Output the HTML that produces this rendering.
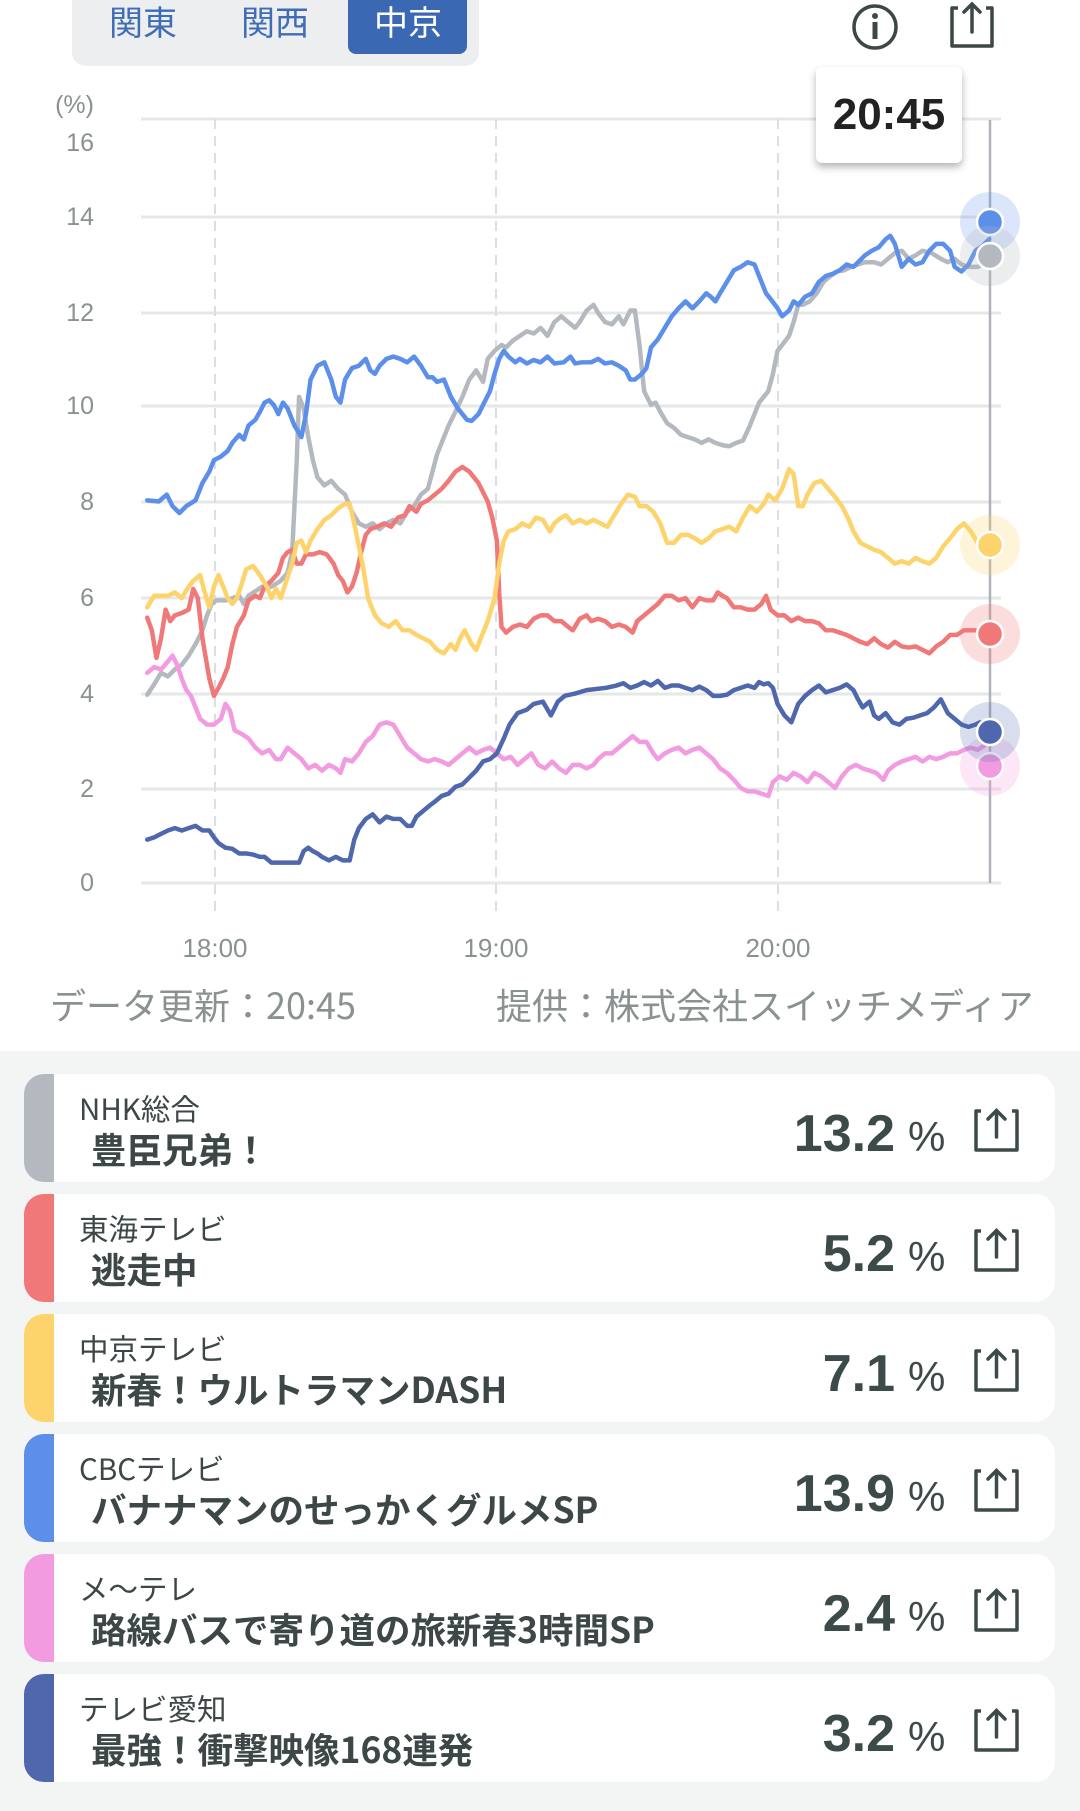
<!DOCTYPE html>
<html><head><meta charset="utf-8"><style>
*{margin:0;padding:0;box-sizing:border-box}
body{width:1080px;height:1804px;background:#fff;position:relative;overflow:hidden;font-family:"Liberation Sans","Noto Sans CJK JP",sans-serif;color:#3d4747}
.abs{position:absolute}
.tabbar{left:72px;top:-20px;width:407px;height:86px;background:#eceeef;border-radius:14px}
.tab{top:0;font-size:34px;color:#3f6db5;line-height:42px;font-family:"Noto Sans CJK JP",sans-serif}
.active{left:348px;top:-10px;width:119px;height:64px;background:#3a68b3;border-radius:8px}
.ylab{font-size:25px;color:#8a9191;width:60px;text-align:right;left:34px;line-height:30px}
.xlab{font-size:26px;color:#8a9191;width:120px;text-align:center;line-height:30px;top:933px}
.foot{font-size:36px;color:#8a9191;line-height:40px;top:984px;font-family:"Noto Sans CJK JP",sans-serif}
.list{left:0;top:1051px;width:1080px;height:760px;background:#f3f5f5}
.card{left:24px;width:1031px;height:108px;background:#fff;border-radius:20px;overflow:hidden}
.bar{left:0;top:0;width:30px;height:108px}
.ch{left:55px;top:16px;font-size:29.5px;line-height:36px;font-family:"Noto Sans CJK JP",sans-serif;color:#3d4747}
.ti{left:67px;top:53px;font-size:35.5px;line-height:44px;font-weight:bold;font-family:"Noto Sans CJK JP",sans-serif;color:#3d4747}
.val{right:160px;top:30px;font-size:52px;font-weight:bold;line-height:60px;color:#3d4a4a}
.pct{left:884px;top:37px;font-size:42px;line-height:52px;color:#3d4a4a}
.sh{left:949px;top:33px}
</style></head><body>
<div class="abs tabbar"></div>
<div class="abs active"></div>
<div class="abs tab" style="left:109px">関東</div>
<div class="abs tab" style="left:241px">関西</div>
<div class="abs tab" style="left:374px;color:#fff">中京</div>
<svg class="abs" style="left:0;top:0" width="1080" height="1050">
 <circle cx="875" cy="27" r="21" fill="none" stroke="#3d4747" stroke-width="3.5"/>
 <circle cx="875" cy="16" r="3" fill="#3d4747"/>
 <rect x="872.5" y="22" width="5" height="17" fill="#3d4747"/>
 <path d="M958 8 H952 V46 H992 V8 H986" fill="none" stroke="#3d4747" stroke-width="3.5" stroke-linejoin="round"/>
 <path d="M972 32 V4 M964 12 L972 4 L980 12" fill="none" stroke="#3d4747" stroke-width="3.5" stroke-linecap="round"/>
 <g stroke="#e6e8e8" stroke-width="3">
  <line x1="141" x2="1001" y1="119" y2="119"/><line x1="141" x2="1001" y1="217" y2="217"/>
  <line x1="141" x2="1001" y1="313" y2="313"/><line x1="141" x2="1001" y1="406" y2="406"/>
  <line x1="141" x2="1001" y1="502" y2="502"/><line x1="141" x2="1001" y1="598" y2="598"/>
  <line x1="141" x2="1001" y1="694" y2="694"/><line x1="141" x2="1001" y1="789" y2="789"/>
  <line x1="141" x2="1001" y1="883" y2="883"/>
 </g>
 <g stroke="#dcdfe0" stroke-width="2" stroke-dasharray="10,7">
  <line x1="215" x2="215" y1="119" y2="912"/><line x1="496" x2="496" y1="119" y2="912"/><line x1="778" x2="778" y1="119" y2="912"/>
 </g>
 <line x1="990" x2="990" y1="120" y2="883" stroke="#b0b4b8" stroke-width="2.5"/>
 <g transform="scale(1.1502)" fill="none" stroke-width="3.9" stroke-linejoin="round" stroke-linecap="round">
 <polyline stroke="#b4b9c0" points="128,604 134,595 140,585 146,588 152,582 158,578 164,570 170,560 176,548 180,535 184,525 188,522 196,522 202,520 208,518 212,525 216,518 222,514 228,510 236,510 244,505 250,498 254,480 258,400 260,345 264,355 268,380 272,400 276,415 282,422 288,418 294,425 300,430 306,445 312,455 318,458 324,455 330,460 336,455 342,452 348,455 354,445 360,440 366,430 372,425 376,410 380,395 384,385 390,370 396,358 402,345 408,330 414,322 420,332 424,312 430,305 436,300 440,302 446,296 452,292 458,288 464,290 470,285 476,292 482,280 488,275 494,280 500,285 504,280 510,270 516,265 520,272 526,280 532,282 538,275 542,282 548,270 552,270 556,300 560,340 566,352 570,350 574,358 580,368 586,372 592,378 598,380 604,382 610,385 616,382 622,385 628,387 634,388 640,385 646,383 652,370 656,360 660,350 664,345 668,340 672,325 676,305 680,300 686,292 690,280 694,265 698,265 704,262 710,255 716,245 722,240 728,236 734,235 740,232 746,230 752,228 760,228 766,230 772,225 778,220 784,218 790,225 796,222 802,218 810,220 818,225 824,228 830,225 836,230 842,232 850,232 858,228 862,222"/>
 <polyline stroke="#f07878" points="128,537 132,548 136,572 140,555 144,530 148,540 152,535 158,533 164,530 168,512 172,520 176,555 182,590 186,605 190,598 194,590 198,580 202,560 206,545 212,535 216,522 222,518 226,520 230,510 236,505 242,498 246,485 250,480 254,478 258,490 262,490 266,482 272,482 278,480 284,482 290,490 294,500 298,505 302,515 306,510 310,498 314,480 318,465 322,460 328,458 334,455 340,458 346,450 352,448 356,440 362,445 366,438 372,435 378,430 384,425 390,418 396,410 402,406 408,410 412,415 416,420 420,428 424,436 428,450 432,470 434,515 436,545 440,550 446,545 452,543 458,545 464,538 470,535 476,535 482,540 488,540 494,545 498,548 504,538 510,535 514,540 520,538 526,540 532,545 538,543 544,545 550,550 554,540 560,535 566,530 572,525 578,518 584,518 590,522 596,520 602,528 608,520 614,522 620,522 624,515 628,518 632,520 638,528 644,528 650,530 656,530 662,525 666,518 670,530 676,535 682,535 688,540 694,537 700,540 706,540 712,542 718,548 724,548 730,550 736,552 742,555 748,558 754,560 760,555 766,560 772,563 778,558 784,562 790,563 796,562 802,565 808,568 814,562 820,558 826,552 832,552 838,548 844,548 850,548 856,545 862,550"/>
 <polyline stroke="#fdd46c" points="128,528 134,518 140,518 146,518 152,515 158,520 164,510 168,505 174,500 178,515 182,528 186,510 190,500 194,510 198,520 202,525 206,520 210,508 214,495 220,492 226,500 232,510 236,520 240,512 244,520 250,502 254,490 258,472 262,470 266,480 270,470 276,460 282,452 288,448 294,442 300,438 304,438 308,455 312,475 316,495 320,520 326,535 332,542 338,545 344,540 350,548 356,548 362,552 368,555 374,558 380,565 386,568 392,560 396,565 400,555 404,548 410,560 414,565 418,555 424,540 430,520 434,490 438,470 442,462 448,460 454,455 460,458 466,450 472,452 478,462 482,455 488,450 492,448 498,455 504,452 510,455 516,452 522,455 528,458 534,448 540,438 546,430 552,432 556,440 562,440 568,445 574,455 580,472 586,472 592,465 598,465 604,468 610,472 616,468 622,462 628,460 634,458 640,462 646,450 652,440 658,445 664,438 668,430 674,435 680,425 686,408 690,412 694,440 698,440 702,430 708,420 714,418 720,425 726,432 732,440 738,452 742,462 748,472 754,475 760,478 766,480 772,485 778,490 784,488 790,490 796,485 802,488 808,490 814,485 820,475 826,468 832,460 838,455 844,462 850,472"/>
 <polyline stroke="#5b8fea" points="128,435 138,436 145,430 150,440 156,446 162,440 170,435 176,420 182,410 186,400 192,397 198,392 202,385 208,378 212,382 216,370 222,365 226,358 230,350 234,348 238,352 242,360 246,350 250,355 256,370 262,380 266,360 270,330 276,318 282,315 288,330 292,345 296,350 300,330 306,320 312,318 318,312 322,322 326,325 330,318 336,312 342,310 348,312 354,315 360,310 366,318 372,328 376,328 380,332 386,330 392,345 398,355 402,360 406,365 410,366 416,360 420,352 426,340 430,325 434,312 438,305 442,310 448,315 452,312 458,316 464,313 470,315 476,310 482,316 490,315 496,310 500,316 506,315 514,315 520,312 526,316 532,315 538,318 544,322 548,330 552,330 558,325 562,320 566,302 572,295 578,285 584,275 590,268 596,262 602,268 608,262 614,255 618,258 622,262 626,255 632,245 638,235 644,232 650,228 656,230 660,240 666,255 670,260 676,268 680,275 686,270 690,262 694,265 700,258 706,255 712,245 718,240 724,238 730,235 736,230 742,232 748,226 752,222 758,218 764,215 770,208 774,205 778,212 784,232 790,225 796,230 802,228 808,218 814,212 820,212 826,218 830,232 836,236 842,230 848,218 854,214 860,208"/>
 <polyline stroke="#f29be0" points="128,585 134,580 140,582 146,575 150,570 154,578 158,590 162,600 166,605 170,615 174,625 180,630 186,630 192,625 196,612 200,618 204,635 210,638 216,642 222,650 228,655 234,652 240,660 244,660 250,650 256,655 262,660 268,668 274,665 280,670 286,665 292,668 296,672 300,660 306,662 312,655 318,645 324,640 330,630 336,628 342,630 348,640 354,650 360,655 366,660 372,662 378,660 384,662 390,665 396,660 402,655 408,650 414,655 420,652 426,650 432,655 438,660 444,658 450,665 456,660 462,655 468,665 474,668 480,662 486,668 492,672 498,665 504,665 510,668 516,665 520,660 526,655 532,655 538,650 544,645 550,640 556,645 562,645 568,655 572,660 578,655 584,652 590,650 596,655 602,652 608,650 614,655 620,660 626,668 632,672 638,678 644,685 650,688 656,688 662,690 668,692 672,680 678,675 684,678 690,672 696,675 702,680 708,672 714,675 720,680 726,685 732,675 738,668 744,665 750,668 756,670 762,672 768,678 772,670 778,665 784,662 790,660 796,658 802,662 808,658 814,660 820,658 826,655 832,655 838,652 844,650 850,652 856,648"/>
 <polyline stroke="#4e67ad" points="128,730 134,728 140,725 146,722 152,720 158,722 164,720 170,718 176,722 182,722 186,728 190,733 196,737 202,738 208,742 214,742 220,743 226,745 230,745 236,750 242,750 248,750 254,750 260,750 264,740 268,737 272,740 276,742 280,745 286,748 292,745 298,748 304,748 308,730 312,720 318,712 324,708 330,715 336,710 342,712 348,712 354,718 358,718 362,710 368,705 374,700 378,697 384,692 390,690 396,684 402,682 408,676 414,670 420,662 426,660 432,655 438,642 443,630 450,620 458,617 464,612 472,610 479,622 485,610 491,605 500,603 510,600 527,598 536,596 542,594 548,598 554,596 560,593 566,596 572,592 578,598 584,596 590,596 596,598 602,600 608,597 614,600 620,605 626,605 632,604 638,600 644,598 650,596 656,598 660,593 664,595 668,594 672,598 676,612 682,622 688,628 694,612 700,605 706,600 712,596 718,602 724,600 730,598 736,595 742,600 746,608 750,615 756,610 760,622 764,625 770,620 776,628 782,630 788,625 794,624 800,622 806,620 812,615 818,608 824,620 830,625 836,630 842,632 848,630 852,628"/>
 </g>
 <g stroke="#fff" stroke-width="2.5">
  <circle cx="990" cy="222" r="30" fill="#5b8fea" fill-opacity="0.22" stroke="none"/><circle cx="990" cy="222" r="13" fill="#5b8fea"/>
  <circle cx="990" cy="256" r="30" fill="#b4b9c0" fill-opacity="0.25" stroke="none"/><circle cx="990" cy="256" r="13" fill="#b4b9c0"/>
  <circle cx="990" cy="545" r="30" fill="#fdd46c" fill-opacity="0.25" stroke="none"/><circle cx="990" cy="545" r="13" fill="#fdd46c"/>
  <circle cx="990" cy="634" r="30" fill="#f07878" fill-opacity="0.25" stroke="none"/><circle cx="990" cy="634" r="13" fill="#f07878"/>
  <circle cx="990" cy="766" r="30" fill="#f29be0" fill-opacity="0.25" stroke="none"/><circle cx="990" cy="766" r="13" fill="#f29be0"/>
  <circle cx="990" cy="732" r="30" fill="#4e67ad" fill-opacity="0.22" stroke="none"/><circle cx="990" cy="732" r="13" fill="#4e67ad"/>
 </g>
</svg>
<div class="abs" style="left:816px;top:67px;width:146px;height:96px;background:#fff;border-radius:6px;box-shadow:0 4px 8px rgba(0,0,0,0.3);font-size:44px;font-weight:bold;color:#222;text-align:center;line-height:96px">20:45</div>
<div class="abs ylab" style="top:90px">(%)</div>
<div class="abs ylab" style="top:128px">16</div>
<div class="abs ylab" style="top:202px">14</div>
<div class="abs ylab" style="top:298px">12</div>
<div class="abs ylab" style="top:391px">10</div>
<div class="abs ylab" style="top:487px">8</div>
<div class="abs ylab" style="top:583px">6</div>
<div class="abs ylab" style="top:679px">4</div>
<div class="abs ylab" style="top:774px">2</div>
<div class="abs ylab" style="top:868px">0</div>
<div class="abs xlab" style="left:155px">18:00</div>
<div class="abs xlab" style="left:436px">19:00</div>
<div class="abs xlab" style="left:718px">20:00</div>
<div class="abs foot" style="left:50px">データ更新：20:45</div>
<div class="abs foot" style="left:496px">提供：株式会社スイッチメディア</div>
<div class="abs list"></div>

<div class="abs card" style="top:1074px"><div class="abs bar" style="background:#b4b9c0"></div><div class="abs ch">NHK総合</div><div class="abs ti">豊臣兄弟！</div><div class="abs val">13.2</div><div class="abs pct">%</div>
<svg class="abs sh" width="48" height="48"><path d="M8 4 H3 V43 H44 V4 H39" fill="none" stroke="#3d4a4a" stroke-width="3.5" stroke-linejoin="round"/><path d="M23.5 30 V4 M15 12 L23.5 3.5 L32 12" fill="none" stroke="#3d4a4a" stroke-width="3.5" stroke-linecap="round"/></svg></div>

<div class="abs card" style="top:1194px"><div class="abs bar" style="background:#f07878"></div><div class="abs ch">東海テレビ</div><div class="abs ti">逃走中</div><div class="abs val">5.2</div><div class="abs pct">%</div>
<svg class="abs sh" width="48" height="48"><path d="M8 4 H3 V43 H44 V4 H39" fill="none" stroke="#3d4a4a" stroke-width="3.5" stroke-linejoin="round"/><path d="M23.5 30 V4 M15 12 L23.5 3.5 L32 12" fill="none" stroke="#3d4a4a" stroke-width="3.5" stroke-linecap="round"/></svg></div>

<div class="abs card" style="top:1314px"><div class="abs bar" style="background:#fdd46c"></div><div class="abs ch">中京テレビ</div><div class="abs ti">新春！ウルトラマンDASH</div><div class="abs val">7.1</div><div class="abs pct">%</div>
<svg class="abs sh" width="48" height="48"><path d="M8 4 H3 V43 H44 V4 H39" fill="none" stroke="#3d4a4a" stroke-width="3.5" stroke-linejoin="round"/><path d="M23.5 30 V4 M15 12 L23.5 3.5 L32 12" fill="none" stroke="#3d4a4a" stroke-width="3.5" stroke-linecap="round"/></svg></div>

<div class="abs card" style="top:1434px"><div class="abs bar" style="background:#5b8fea"></div><div class="abs ch">CBCテレビ</div><div class="abs ti">バナナマンのせっかくグルメSP</div><div class="abs val">13.9</div><div class="abs pct">%</div>
<svg class="abs sh" width="48" height="48"><path d="M8 4 H3 V43 H44 V4 H39" fill="none" stroke="#3d4a4a" stroke-width="3.5" stroke-linejoin="round"/><path d="M23.5 30 V4 M15 12 L23.5 3.5 L32 12" fill="none" stroke="#3d4a4a" stroke-width="3.5" stroke-linecap="round"/></svg></div>

<div class="abs card" style="top:1554px"><div class="abs bar" style="background:#f29be0"></div><div class="abs ch">メ～テレ</div><div class="abs ti">路線バスで寄り道の旅新春3時間SP</div><div class="abs val">2.4</div><div class="abs pct">%</div>
<svg class="abs sh" width="48" height="48"><path d="M8 4 H3 V43 H44 V4 H39" fill="none" stroke="#3d4a4a" stroke-width="3.5" stroke-linejoin="round"/><path d="M23.5 30 V4 M15 12 L23.5 3.5 L32 12" fill="none" stroke="#3d4a4a" stroke-width="3.5" stroke-linecap="round"/></svg></div>

<div class="abs card" style="top:1674px"><div class="abs bar" style="background:#4e67ad"></div><div class="abs ch">テレビ愛知</div><div class="abs ti">最強！衝撃映像168連発</div><div class="abs val">3.2</div><div class="abs pct">%</div>
<svg class="abs sh" width="48" height="48"><path d="M8 4 H3 V43 H44 V4 H39" fill="none" stroke="#3d4a4a" stroke-width="3.5" stroke-linejoin="round"/><path d="M23.5 30 V4 M15 12 L23.5 3.5 L32 12" fill="none" stroke="#3d4a4a" stroke-width="3.5" stroke-linecap="round"/></svg></div>
</body></html>
